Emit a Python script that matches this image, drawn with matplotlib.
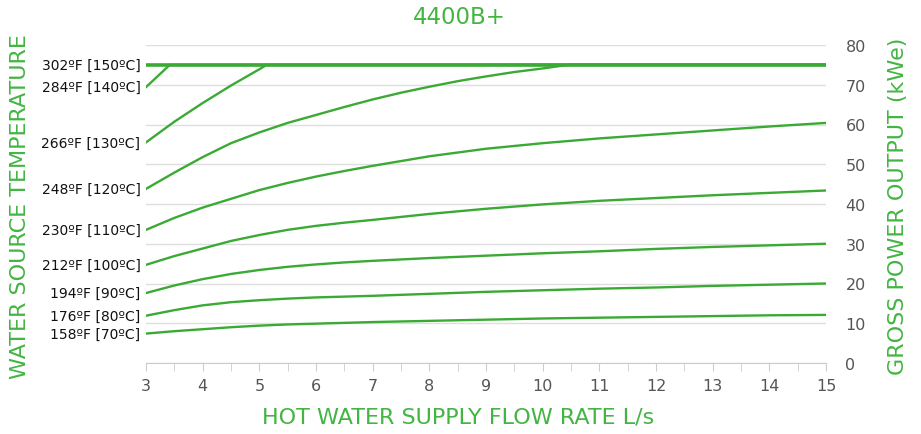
import matplotlib
matplotlib.use('Agg')
import matplotlib.pyplot as plt
from matplotlib.ticker import MultipleLocator

GREEN = '#3aaa35'
LABEL_GREEN = '#43b543'
GRID = '#dedede'
TICK = '#555555'

# flow rate (L/s) and gross power output (kWe) per hot water source temperature
x_150 = [3, 15]
y_150 = [75, 75]
x_140 = [3, 3.42, 15]
y_140 = [69.4, 75, 75]
x_130 = [3, 3.5, 4, 4.5, 5, 5.13, 15]
y_130 = [55.5, 60.7, 65.4, 69.8, 73.9, 75, 75]
x_120 = [3, 3.5, 4, 4.5, 5, 5.5, 6, 6.5, 7, 7.5, 8, 8.5, 9, 9.5, 10, 10.45, 15]
y_120 = [43.8, 47.9, 51.8, 55.3, 58.0, 60.4, 62.4, 64.4, 66.3, 68.0, 69.5, 70.9,
         72.1, 73.2, 74.1, 75, 75]
x_flow = [3, 3.5, 4, 4.5, 5, 5.5, 6, 6.5, 7, 8, 9, 10, 11, 12, 13, 14, 15]
y_110 = [33.5, 36.5, 39.1, 41.3, 43.5, 45.3, 46.9, 48.3, 49.6, 52.0, 53.9, 55.3,
         56.5, 57.5, 58.5, 59.5, 60.4]
y_100 = [24.7, 26.9, 28.8, 30.7, 32.2, 33.5, 34.5, 35.3, 36.0, 37.5, 38.8, 39.9,
         40.8, 41.5, 42.2, 42.8, 43.4]
y_90 = [17.6, 19.5, 21.1, 22.4, 23.4, 24.2, 24.8, 25.3, 25.7, 26.4, 27.0, 27.6,
        28.1, 28.7, 29.2, 29.6, 30.0]
y_80 = [11.9, 13.3, 14.5, 15.3, 15.8, 16.2, 16.5, 16.7, 16.9, 17.4, 17.9, 18.3,
        18.7, 19.0, 19.4, 19.7, 20.0]
y_70 = [7.4, 8.0, 8.5, 9.0, 9.4, 9.7, 9.9, 10.1, 10.3, 10.6, 10.9, 11.2, 11.4,
        11.6, 11.8, 12.0, 12.1]

series = [
    ('302ºF [150ºC]', x_150, y_150),
    ('284ºF [140ºC]', x_140, y_140),
    ('266ºF [130ºC]', x_130, y_130),
    ('248ºF [120ºC]', x_120, y_120),
    ('230ºF [110ºC]', x_flow, y_110),
    ('212ºF [100ºC]', x_flow, y_100),
    ('194ºF [90ºC]', x_flow, y_90),
    ('176ºF [80ºC]', x_flow, y_80),
    ('158ºF [70ºC]', x_flow, y_70),
]

fig = plt.figure(figsize=(9.21, 4.35), dpi=100)
ax = fig.add_axes([146 / 921, 71 / 435, 680 / 921, 318 / 435])

for i, (label, xs, ys) in enumerate(series):
    lw = 2.6 if i == 0 else 1.7
    ax.plot(xs, ys, color=GREEN, lw=lw, solid_joinstyle='round', zorder=3)
    ax.annotate(label, xy=(xs[0], ys[0]), xytext=(-4, 0), textcoords='offset points',
                ha='right', va='center', fontsize=10, color='#111111')

ax.set_xlim(3, 15)
ax.set_ylim(0, 80)
ax.xaxis.set_major_locator(MultipleLocator(1))
ax.xaxis.set_minor_locator(MultipleLocator(0.5))
ax.yaxis.set_major_locator(MultipleLocator(10))
ax.yaxis.tick_right()
ax.grid(axis='y', color=GRID, lw=1)
ax.set_axisbelow(True)

for s in ['top', 'left', 'right']:
    ax.spines[s].set_visible(False)
ax.spines['bottom'].set_color('#cccccc')
ax.tick_params(axis='x', which='both', length=6, color='#cccccc', labelsize=11.5,
               labelcolor=TICK, pad=5)
ax.tick_params(axis='y', length=0, labelsize=11.5, labelcolor=TICK, pad=14)
for t in ax.get_yticklabels():
    t.set_horizontalalignment('left')

fig.text(0.499, 1 - 18 / 435, '4400B+', ha='center', va='center', fontsize=16.5,
         color=LABEL_GREEN)
fig.text(0.497, 1 - 418 / 435, 'HOT WATER SUPPLY FLOW RATE L/s', ha='center',
         va='center', fontsize=16, color=LABEL_GREEN)
fig.text(20 / 921, 1 - 207 / 435, 'WATER SOURCE TEMPERATURE', rotation=90,
         ha='center', va='center', fontsize=16, color=LABEL_GREEN)
fig.text(898 / 921, 1 - 206 / 435, 'GROSS POWER OUTPUT (kWe)', rotation=90,
         ha='center', va='center', fontsize=16, color=LABEL_GREEN)

fig.savefig('out.png', dpi=100)
